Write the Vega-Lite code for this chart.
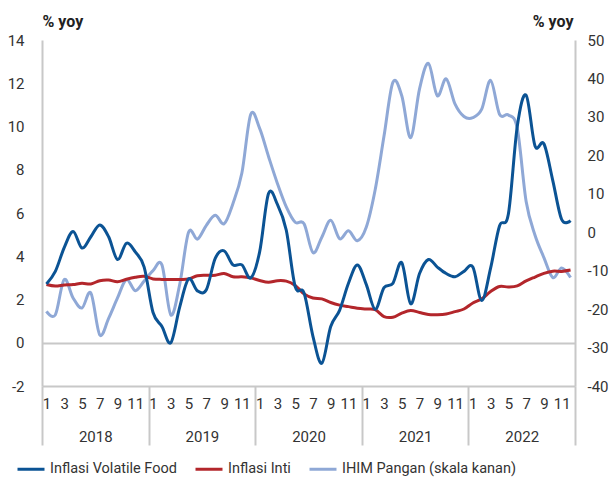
{
  "$schema": "https://vega.github.io/schema/vega-lite/v6.json",
  "width": 533,
  "height": 346,
  "autosize": "none",
  "padding": {"left": 42, "top": 40, "right": 40, "bottom": 94},
  "background": "white",
  "config": {
    "font": "Roboto",
    "view": {"stroke": null},
    "axis": {"labelFont": "Roboto", "labelFontSize": 15, "labelColor": "#333333", "domainColor": "#c8c8c8", "domainWidth": 2, "tickColor": "#c8c8c8", "tickWidth": 2, "grid": false, "titleFont": "Roboto"},
    "legend": {"labelFont": "Roboto", "labelFontSize": 14.5, "labelColor": "#333333", "labelLimit": 0}
  },
  "data": {"values": [
    {"t":0,"vf":2.72,"inti":2.69,"ihim":-20.6},
    {"t":1,"vf":3.3,"inti":2.62,"ihim":-21.5},
    {"t":2,"vf":4.4,"inti":2.67,"ihim":-12.3},
    {"t":3,"vf":5.15,"inti":2.69,"ihim":-17.1},
    {"t":4,"vf":4.38,"inti":2.75,"ihim":-19.7},
    {"t":5,"vf":4.9,"inti":2.72,"ihim":-15.8},
    {"t":6,"vf":5.45,"inti":2.87,"ihim":-26.7},
    {"t":7,"vf":4.9,"inti":2.9,"ihim":-22.4},
    {"t":8,"vf":3.85,"inti":2.82,"ihim":-17.1},
    {"t":9,"vf":4.6,"inti":2.94,"ihim":-12.3},
    {"t":10,"vf":4.2,"inti":3.03,"ihim":-15.2},
    {"t":11,"vf":3.5,"inti":3.07,"ihim":-12.7},
    {"t":12,"vf":1.4,"inti":2.95,"ihim":-10.0},
    {"t":13,"vf":0.75,"inti":2.93,"ihim":-8.5},
    {"t":14,"vf":0.0,"inti":2.93,"ihim":-21.5},
    {"t":15,"vf":1.65,"inti":2.93,"ihim":-13.6},
    {"t":16,"vf":2.95,"inti":2.95,"ihim":0.0},
    {"t":17,"vf":2.4,"inti":3.1,"ihim":-1.8},
    {"t":18,"vf":2.45,"inti":3.12,"ihim":1.8},
    {"t":19,"vf":3.9,"inti":3.12,"ihim":4.4},
    {"t":20,"vf":4.25,"inti":3.2,"ihim":2.2},
    {"t":21,"vf":3.6,"inti":3.05,"ihim":7.5},
    {"t":22,"vf":3.6,"inti":3.05,"ihim":15.4},
    {"t":23,"vf":3.0,"inti":3.0,"ihim":30.7},
    {"t":24,"vf":4.2,"inti":2.88,"ihim":27.0},
    {"t":25,"vf":6.9,"inti":2.8,"ihim":19.7},
    {"t":26,"vf":6.4,"inti":2.87,"ihim":12.7},
    {"t":27,"vf":5.2,"inti":2.85,"ihim":6.6},
    {"t":28,"vf":2.6,"inti":2.65,"ihim":2.6},
    {"t":29,"vf":2.3,"inti":2.26,"ihim":2.2},
    {"t":30,"vf":0.3,"inti":2.07,"ihim":-5.3},
    {"t":31,"vf":-0.95,"inti":2.03,"ihim":-1.3},
    {"t":32,"vf":0.75,"inti":1.86,"ihim":3.1},
    {"t":33,"vf":1.5,"inti":1.74,"ihim":-1.7},
    {"t":34,"vf":2.75,"inti":1.67,"ihim":0.4},
    {"t":35,"vf":3.6,"inti":1.6,"ihim":-2.2},
    {"t":36,"vf":2.7,"inti":1.56,"ihim":1.3},
    {"t":37,"vf":1.55,"inti":1.53,"ihim":11.0},
    {"t":38,"vf":2.55,"inti":1.21,"ihim":25.0},
    {"t":39,"vf":2.75,"inti":1.18,"ihim":39.0},
    {"t":40,"vf":3.7,"inti":1.37,"ihim":35.5},
    {"t":41,"vf":1.8,"inti":1.49,"ihim":24.6},
    {"t":42,"vf":3.2,"inti":1.4,"ihim":37.3},
    {"t":43,"vf":3.85,"inti":1.31,"ihim":43.9},
    {"t":44,"vf":3.5,"inti":1.3,"ihim":35.5},
    {"t":45,"vf":3.2,"inti":1.33,"ihim":39.9},
    {"t":46,"vf":3.05,"inti":1.44,"ihim":33.3},
    {"t":47,"vf":3.3,"inti":1.56,"ihim":30.1},
    {"t":48,"vf":3.5,"inti":1.84,"ihim":29.8},
    {"t":49,"vf":1.95,"inti":2.03,"ihim":32.0},
    {"t":50,"vf":3.45,"inti":2.37,"ihim":39.5},
    {"t":51,"vf":5.4,"inti":2.6,"ihim":30.7},
    {"t":52,"vf":5.95,"inti":2.58,"ihim":30.5},
    {"t":53,"vf":10.0,"inti":2.63,"ihim":27.0},
    {"t":54,"vf":11.45,"inti":2.86,"ihim":8.0},
    {"t":55,"vf":9.1,"inti":3.04,"ihim":-0.8},
    {"t":56,"vf":9.2,"inti":3.21,"ihim":-6.6},
    {"t":57,"vf":7.5,"inti":3.31,"ihim":-11.8},
    {"t":58,"vf":5.7,"inti":3.3,"ihim":-9.3},
    {"t":59,"vf":5.65,"inti":3.36,"ihim":-11.8}
  ]},
  "layer": [
    {
      "mark": {"type": "line", "interpolate": "cardinal", "strokeWidth": 3},
      "encoding": {
        "x": {"field": "t", "type": "quantitative",
          "scale": {"domain": [-0.5, 59.5], "nice": false, "zero": false},
          "axis": {"orient": "bottom", "values": [-0.5, 11.5, 23.5, 35.5, 47.5, 59.5], "tickSize": 59, "domain": false, "labelOffset": 53.3, "labelPadding": -16, "labelAlign": "center", "labelOverlap": false, "labelFlush": false, "labelExpr": "datum.value > 59 ? '' : '' + (2018 + (datum.value + 0.5) / 12)", "title": null}},
        "y": {"field": "ihim", "type": "quantitative",
          "scale": {"domain": [-40, 50], "nice": false, "zero": false},
          "axis": {"orient": "right", "values": [-40, -30, -20, -10, 0, 10, 20, 30, 40, 50], "ticks": false, "labelPadding": 12, "labelExpr": "'' + datum.value", "title": "% yoy", "titleAngle": 0, "titleX": -2, "titleY": -14, "titleAlign": "right", "titleBaseline": "alphabetic", "titleFontWeight": "bold", "titleFontSize": 16, "titleColor": "#222222"}},
        "color": {"datum": "IHIM Pangan (skala kanan)", "type": "nominal",
          "scale": {"domain": ["Inflasi Volatile Food", "Inflasi Inti", "IHIM Pangan (skala kanan)"], "range": ["#0B5394", "#B3262B", "#8FA8D6"]},
          "legend": {"orient": "none", "legendX": -26, "legendY": 414, "direction": "horizontal", "title": null, "symbolType": "stroke", "symbolSize": 729, "symbolStrokeWidth": 3, "labelOffset": 4, "columnPadding": 12, "labelLimit": 0}}
      }
    },
    {
      "encoding": {
        "x": {"field": "t", "type": "quantitative",
          "scale": {"domain": [-0.5, 59.5], "nice": false, "zero": false},
          "axis": {"orient": "bottom", "values": [0, 2, 4, 6, 8, 10, 12, 14, 16, 18, 20, 22, 24, 26, 28, 30, 32, 34, 36, 38, 40, 42, 44, 46, 48, 50, 52, 54, 56, 58], "ticks": false, "labelPadding": 10, "labelOverlap": false, "labelFlush": false, "labelExpr": "'' + (datum.value % 12 + 1)", "title": null}},
        "y": {"type": "quantitative",
          "scale": {"domain": [-2, 14], "nice": false, "zero": false},
          "axis": {"orient": "left", "values": [-2, 0, 2, 4, 6, 8, 10, 12, 14], "ticks": false, "labelPadding": 18, "labelExpr": "'' + datum.value", "grid": true, "gridColor": "#c8c8c8", "gridWidth": 2, "gridOpacity": {"condition": {"test": "datum.value === 0", "value": 1}, "value": 0}, "title": "% yoy", "titleAngle": 0, "titleX": 0, "titleY": -14, "titleAlign": "left", "titleBaseline": "alphabetic", "titleFontWeight": "bold", "titleFontSize": 16, "titleColor": "#222222"}}
      },
      "layer": [
        {
          "mark": {"type": "line", "interpolate": "cardinal", "strokeWidth": 3},
          "encoding": {
            "y": {"field": "inti", "type": "quantitative"},
            "color": {"datum": "Inflasi Inti", "type": "nominal"}
          }
        },
        {
          "mark": {"type": "line", "interpolate": "cardinal", "strokeWidth": 3},
          "encoding": {
            "y": {"field": "vf", "type": "quantitative"},
            "color": {"datum": "Inflasi Volatile Food", "type": "nominal"}
          }
        }
      ]
    }
  ],
  "resolve": {"scale": {"y": "independent"}, "axis": {"x": "independent", "y": "independent"}}
}
